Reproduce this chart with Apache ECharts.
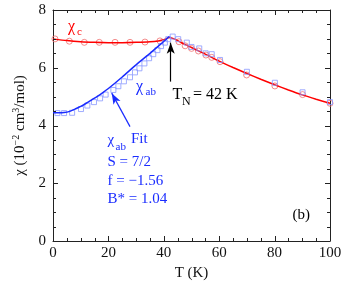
<!DOCTYPE html>
<html><head><meta charset="utf-8">
<script src="https://cdn.jsdelivr.net/npm/echarts@6/dist/echarts.min.js"></script>
<style>html,body{margin:0;padding:0;background:#fff}#c{width:346px;height:287px}</style>
</head><body><div id="c"></div>
<script>
var xTicks = [0, 20, 40, 60, 80, 100];
var yTicks = [0, 2, 4, 6, 8];
var xTickMarks = [0, 5, 10, 15, 20, 25, 30, 35, 40, 45, 50, 55, 60, 65, 70, 75, 80, 85, 90, 95, 100];
var yTickMarks = [0, 0.5, 1, 1.5, 2, 2.5, 3, 3.5, 4, 4.5, 5, 5.5, 6, 6.5, 7, 7.5, 8];
var chiC_T = [0.7, 5.9, 11.3, 16.7, 22.4, 27.8, 33.2, 38.6, 45.5, 47.7, 50, 52.5, 55.2, 57.3, 60.3, 69.9, 80.1, 90.1, 100];
var chiC_V = [7.0, 6.92, 6.88, 6.88, 6.88, 6.88, 6.89, 6.93, 6.90, 6.76, 6.67, 6.58, 6.44, 6.36, 6.21, 5.75, 5.37, 5.07, 4.77];
var chiAB_T = [1.6, 4, 6.9, 10.1, 12.4, 14.8, 17, 19, 21.8, 23.6, 25.6, 27.8, 29.6, 31.2, 33, 34.7, 36.2, 37.7, 39, 40.4, 41.6, 43.2, 45.2, 48.3, 50, 52.8, 55.1, 57.3, 60.3, 70, 80.1, 90.1, 100];
var chiAB_V = [4.43, 4.43, 4.44, 4.57, 4.69, 4.81, 4.94, 5.07, 5.23, 5.36, 5.53, 5.67, 5.84, 5.98, 6.15, 6.33, 6.47, 6.61, 6.75, 6.87, 6.99, 7.08, 6.99, 6.87, 6.72, 6.67, 6.5, 6.47, 6.27, 5.86, 5.48, 5.15, 4.81];
var lineC_T = [0, 5, 10, 15, 20, 25, 30, 35, 38, 40, 42, 44, 46, 48, 50, 55, 60, 65, 70, 75, 80, 85, 90, 95, 100];
var lineC_V = [7.0, 6.94, 6.9, 6.88, 6.87, 6.87, 6.88, 6.9, 6.93, 6.97, 7.05, 6.99, 6.89, 6.79, 6.7, 6.47, 6.23, 6.01, 5.8, 5.6, 5.41, 5.23, 5.06, 4.91, 4.77];
var fitAB_T = [0, 2, 4, 6, 8, 10, 12, 14, 16, 18, 20, 25, 30, 35, 40, 42];
var fitAB_V = [4.44, 4.44, 4.45, 4.49, 4.57, 4.66, 4.77, 4.89, 5.01, 5.14, 5.28, 5.68, 6.1, 6.5, 6.91, 7.08];

function zip(a, b) { return a.map(function (v, i) { return [v, b[i]]; }); }
var FF = '"Liberation Serif", "DejaVu Serif", serif';
var axisCol = '#222';
function mkAxis(extra) {
  var base = {
    type: 'value',
    axisLine: { show: true, onZero: false, lineStyle: { color: axisCol, width: 1 } },
    axisTick: { show: false },
    minorTick: { show: false },
    splitLine: { show: false },
    minorSplitLine: { show: false },
    axisLabel: { show: false }
  };
  for (var k in extra) base[k] = extra[k];
  return base;
}
var texts = [
  { type: 'text', left: 68, top: 19, style: { text: 'χ', fontFamily: FF, fontSize: 16, fill: '#ff0000' } },
  { type: 'text', left: 77, top: 27, style: { text: 'c', fontFamily: FF, fontSize: 11, fill: '#ff0000' } },
  { type: 'text', left: 136, top: 79, style: { text: 'χ', fontFamily: FF, fontSize: 16, fill: '#1a2cff' } },
  { type: 'text', left: 145.5, top: 87, style: { text: 'ab', fontFamily: FF, fontSize: 11, fill: '#1a2cff' } },
  { type: 'text', left: 172.5, top: 87, style: { text: 'T', fontFamily: FF, fontSize: 16, fill: '#000' } },
  { type: 'text', left: 182, top: 96, style: { text: 'N', fontFamily: FF, fontSize: 12, fill: '#000' } },
  { type: 'text', left: 193, top: 87, style: { text: '= 42 K', fontFamily: FF, fontSize: 16, fill: '#000' } },
  { type: 'text', left: 107.5, top: 133, style: { text: 'χ', fontFamily: FF, fontSize: 15, fill: '#1a2cff' } },
  { type: 'text', left: 115.5, top: 142, style: { text: 'ab', fontFamily: FF, fontSize: 11, fill: '#1a2cff' } },
  { type: 'text', left: 131, top: 132, style: { text: 'Fit', fontFamily: FF, fontSize: 15, fill: '#1a2cff' } },
  { type: 'text', left: 107.5, top: 155, style: { text: 'S = 7/2', fontFamily: FF, fontSize: 15, fill: '#1a2cff' } },
  { type: 'text', left: 107.5, top: 174, style: { text: 'f = −1.56', fontFamily: FF, fontSize: 15, fill: '#1a2cff' } },
  { type: 'text', left: 107.5, top: 192, style: { text: 'B* = 1.04', fontFamily: FF, fontSize: 15, fill: '#1a2cff' } },
  { type: 'text', left: 292.5, top: 208, style: { text: '(b)', fontFamily: FF, fontSize: 15, fill: '#000' } }
];
var chart = echarts.init(document.getElementById('c'));
chart.setOption({
  animation: false,
  grid: { left: 53, right: 16, top: 10, bottom: 46 },
  xAxis: [
    mkAxis({ min: 0, max: 100, interval: 20, position: 'bottom',
      axisLabel: { show: true, margin: 5, fontFamily: FF, fontSize: 15, color: '#111',
        formatter: function (v) { return xTicks.indexOf(v) >= 0 ? String(v) : ''; } },
      name: 'T (K)', nameLocation: 'middle', nameGap: 24,
      nameTextStyle: { fontFamily: FF, fontSize: 15, color: '#111' } }),
    mkAxis({ min: 0, max: 100, interval: 20, position: 'top' })
  ],
  yAxis: [
    mkAxis({ min: 0, max: 8, interval: 2, position: 'left',
      axisLabel: { show: true, margin: 7, fontFamily: FF, fontSize: 15, color: '#111',
        formatter: function (v) { return yTicks.indexOf(v) >= 0 ? String(v) : ''; } },
      name: 'χ (10{s|−2} cm{s|3}/mol)', nameLocation: 'middle', nameGap: 25, nameRotate: 90,
      nameTextStyle: { fontFamily: FF, fontSize: 15, color: '#111', lineHeight: 16,
        rich: { s: { fontFamily: FF, fontSize: 10, color: '#111', verticalAlign: 'top', lineHeight: 16 } } } }),
    mkAxis({ min: 0, max: 8, interval: 2, position: 'right' })
  ],
  series: [
    { type: 'scatter', data: zip(chiC_T, chiC_V), symbol: 'circle', symbolSize: 6,
      itemStyle: { color: 'rgba(0,0,0,0)', borderColor: '#f07070', borderWidth: 1 }, z: 2 },
    { type: 'line', data: zip(lineC_T, lineC_V), showSymbol: false, smooth: 0.2,
      lineStyle: { color: '#ff0000', width: 1.5 }, z: 3 },
    { type: 'scatter', data: zip(chiAB_T, chiAB_V), symbol: 'rect', symbolSize: 5,
      itemStyle: { color: 'rgba(0,0,0,0)', borderColor: '#8a98ff', borderWidth: 1 }, z: 4 },
    { type: 'line', data: zip(fitAB_T, fitAB_V), showSymbol: false, smooth: 0.2,
      lineStyle: { color: '#1a2cff', width: 1.5 }, z: 5,
      markLine: { silent: true, animation: false, label: { show: false },
        lineStyle: { type: 'solid', width: 1.2 },
        data: [
          [{ coord: [27.8, 3.96], symbol: 'none', lineStyle: { color: '#1a2cff' } },
           { coord: [21.2, 5.12], symbol: 'arrow', symbolSize: [6, 11] }],
          [{ coord: [42.5, 5.52], symbol: 'none', lineStyle: { color: '#000' } },
           { coord: [42.5, 6.87], symbol: 'arrow', symbolSize: [6, 11] }]
        ] } }
  ],
  graphic: texts
});
// tick marks on all four sides, positioned through the axes' own scales
var ticks = [];
var pb = chart.convertToPixel({ gridIndex: 0 }, [0, 0]);
var pt = chart.convertToPixel({ gridIndex: 0 }, [100, 8]);
function tl(x1, y1, x2, y2) {
  return { type: 'line', silent: true, z: 100, shape: { x1: x1, y1: y1, x2: x2, y2: y2 }, style: { stroke: '#222', lineWidth: 1 } };
}
xTickMarks.forEach(function (v) {
  var p = chart.convertToPixel({ gridIndex: 0 }, [v, 0]);
  var len = xTicks.indexOf(v) >= 0 ? 5 : 3;
  var x = Math.round(p[0]) + 0.5;
  ticks.push(tl(x, pb[1], x, pb[1] - len));
  ticks.push(tl(x, pt[1], x, pt[1] + len));
});
yTickMarks.forEach(function (v) {
  var p = chart.convertToPixel({ gridIndex: 0 }, [0, v]);
  var len = yTicks.indexOf(v) >= 0 ? 5 : 3;
  var y = Math.round(p[1]) + 0.5;
  ticks.push(tl(pb[0], y, pb[0] + len, y));
  ticks.push(tl(pt[0], y, pt[0] - len, y));
});
chart.setOption({ graphic: texts.concat(ticks) }, { replaceMerge: ['graphic'] });
</script></body></html>
